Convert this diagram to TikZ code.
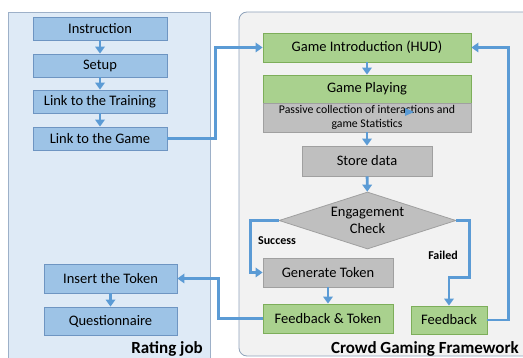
\documentclass[tikz,border=0pt]{standalone}
\usepackage{fontspec}
\setmainfont{Carlito}
\usetikzlibrary{shapes.geometric,arrows.meta}
\definecolor{panelblue}{HTML}{DEEAF6}
\definecolor{panelblueline}{HTML}{9DB0C8}
\definecolor{panelgray}{HTML}{F2F2F2}
\definecolor{panelgrayline}{HTML}{8FA2BA}
\definecolor{stepblue}{HTML}{9DC3E6}
\definecolor{stepblueline}{HTML}{6E95C2}
\definecolor{stepgreen}{HTML}{A9D18E}
\definecolor{stepgreenline}{HTML}{7DAE5A}
\definecolor{stepgray}{HTML}{BFBFBF}
\definecolor{stepgrayline}{HTML}{A0A0A0}
\definecolor{flow}{HTML}{5B9BD5}
\tikzset{
  boxbase/.style={rectangle, draw, line width=0.8pt, inner sep=0pt, align=center,
    font=\fontsize{14.5}{16}\selectfont},
  bluebox/.style={boxbase, fill=stepblue, draw=stepblueline},
  greenbox/.style={boxbase, fill=stepgreen, draw=stepgreenline},
  graybox/.style={boxbase, fill=stepgray, draw=stepgrayline},
  flowline/.style={draw=flow, line width=2.8pt, -{Triangle[length=7pt,width=9.5pt]}},
  edgelabel/.style={font=\fontsize{12}{14}\selectfont\bfseries},
  paneltitle/.style={font=\fontsize{17}{19}\selectfont\bfseries, anchor=base east, inner sep=0pt}
}
\begin{document}
\begin{tikzpicture}[x=1pt,y=-1pt]
\useasboundingbox (0,0) rectangle (523,358);
\begin{scope}
\clip (0,0) rectangle (523,358);
% panels
\draw[fill=panelblue, draw=panelblueline, line width=0.8pt] (8,12) rectangle (210,372);
\draw[fill=panelgray, draw=panelgrayline, line width=0.8pt, rounded corners=8pt] (239,12) rectangle (540,356);
\end{scope}
\node[paneltitle] (ratingtitle) at (203,354) {Rating job};
\node[paneltitle] (cgftitle) at (519,354) {Crowd Gaming Framework};

% rating job steps
\node[bluebox, minimum width=134pt, minimum height=23pt] (instr) at (100,28.5) {Instruction};
\node[bluebox, minimum width=134pt, minimum height=23pt] (setup) at (100,65.5) {Setup};
\node[bluebox, minimum width=134pt, minimum height=23pt] (train) at (100,101.5) {Link to the Training};
\node[bluebox, minimum width=134pt, minimum height=23pt] (game) at (100,138.5) {Link to the Game};
\node[bluebox, minimum width=133pt, minimum height=29pt] (insert) at (110.5,278.5) {Insert the Token};
\node[bluebox, minimum width=133pt, minimum height=28pt] (quest) at (110.5,321) {Questionnaire};

% crowd gaming framework steps
\node[greenbox, minimum width=208pt, minimum height=29pt] (intro) at (367,47.5) {Game Introduction (HUD)};
\node[greenbox, minimum width=208pt, minimum height=28pt] (play) at (367,89) {Game Playing};
\node[graybox, minimum width=208pt, minimum height=29pt,
  font=\fontsize{11.8}{14.5}\selectfont] (passive) at (367,117.5) {Passive collection of interactions and\\game Statistics};
\node[graybox, minimum width=130pt, minimum height=30pt] (store) at (367,161) {Store data};
\node[graybox, shape=diamond, aspect=3.1, minimum width=177pt, minimum height=57pt,
  font=\fontsize{14.5}{17}\selectfont] (check) at (367.5,220.5) {Engagement\\Check};
\node[graybox, minimum width=130pt, minimum height=29pt] (gen) at (328,272.5) {Generate Token};
\node[greenbox, minimum width=130pt, minimum height=29pt] (fbtok) at (328,318.5) {Feedback \& Token};
\node[greenbox, minimum width=76pt, minimum height=28pt] (fb) at (449,320) {Feedback};

% connectors
\draw[flowline] (instr) -- (setup);
\draw[flowline] (setup) -- (train);
\draw[flowline] (train) -- (game);
\draw[flowline] (insert) -- (quest);
\draw[flowline] (game.east) -- ++(48,0) |- (intro.west);
\draw[flowline] (intro) -- (play);
\draw[flowline] (passive) -- (store);
\draw[flowline] (store) -- (check);
\draw[flowline] (check.west) -- ++(-28,0) |- (gen.west);
\draw[flowline] (check.east) -- ++(13,0) |- ([yshift=28pt]fb.north) -- (fb.north);
\draw[flowline] (gen) -- (fbtok);
\draw[flowline] (fbtok.west) -- ++(-44,0) |- (insert.east);
\draw[flowline] (fb.east) -- ++(21,0) |- (intro.east);
\fill[flow] (405,108) -- (414,112) -- (405,116) -- cycle;

% branch labels
\node[edgelabel] (succ) at (277,241) {Success};
\node[edgelabel] (fail) at (443,255) {Failed};
\end{tikzpicture}
\end{document}
